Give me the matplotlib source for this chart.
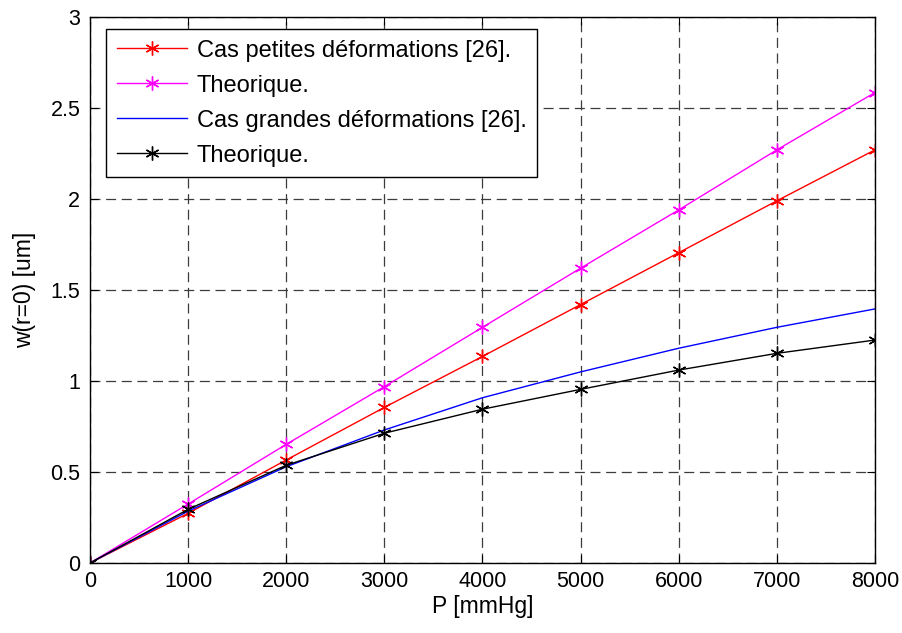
import matplotlib.pyplot as plt

plt.rcParams["font.family"] = ["Liberation Sans", "DejaVu Sans"]

# pression appliquee (mmHg)
pression = [0, 1000, 2000, 3000, 4000, 5000, 6000, 7000, 8000]

# fleche au centre w(r=0) en um
petites_ref = [0, 0.273, 0.566, 0.855, 1.135, 1.42, 1.705, 1.99, 2.27]
petites_theo = [0, 0.324, 0.652, 0.969, 1.295, 1.62, 1.94, 2.27, 2.585]
grandes_ref = [0, 0.285, 0.529, 0.731, 0.908, 1.05, 1.18, 1.295, 1.396]
grandes_theo = [0, 0.295, 0.537, 0.713, 0.845, 0.954, 1.06, 1.152, 1.225]

libelles = [
    "Cas petites déformations [26].",
    "Theorique.",
    "Cas grandes déformations [26].",
    "Theorique.",
]

asterisk = (6, 2, 0)

fig = plt.figure(figsize=(9.02, 6.33), dpi=100)
ax = fig.add_axes([0.0998, 0.1106, 0.8702, 0.8625])

ax.plot(pression, petites_ref, color="#ff0000", lw=1, marker=asterisk, ms=10, mew=1, label=libelles[0])
ax.plot(pression, petites_theo, color="#ff00ff", lw=1, marker=asterisk, ms=10, mew=1, label=libelles[1])
ax.plot(pression, grandes_ref, color="#0000ff", lw=1, label=libelles[2])
ax.plot(pression, grandes_theo, color="#000000", lw=1, marker=asterisk, ms=10, mew=1, label=libelles[3])

ax.set_xlim(0, 8000)
ax.set_ylim(0, 3)
ax.set_xticks(range(0, 8001, 1000))
ax.set_yticks([0, 0.5, 1, 1.5, 2, 2.5, 3])
ax.set_yticklabels(["0", "0.5", "1", "1.5", "2", "2.5", "3"])
ax.tick_params(direction="in", top=True, right=True, labelsize=15.5, length=6, width=0.8)
ax.tick_params(axis="x", pad=6)
ax.tick_params(axis="y", pad=7)
ax.grid(True, color="#3c3c3c", linestyle=(0, (8, 4.5)), linewidth=0.9)
for s in ax.spines.values():
    s.set_linewidth(1)

ax.set_xlabel("P [mmHg]", fontsize=16.5, labelpad=2)
ax.set_ylabel("w(r=0) [um]", fontsize=16.5, labelpad=10)

leg = ax.legend(loc="upper left", bbox_to_anchor=(0.0204, 0.978), fontsize=17,
                fancybox=False, framealpha=1, edgecolor="black", handlelength=3.0,
                borderaxespad=0, labelspacing=0.55, borderpad=0.45, handletextpad=0.4)
leg.get_frame().set_linewidth(1)

fig.savefig("out.png", dpi=100)
